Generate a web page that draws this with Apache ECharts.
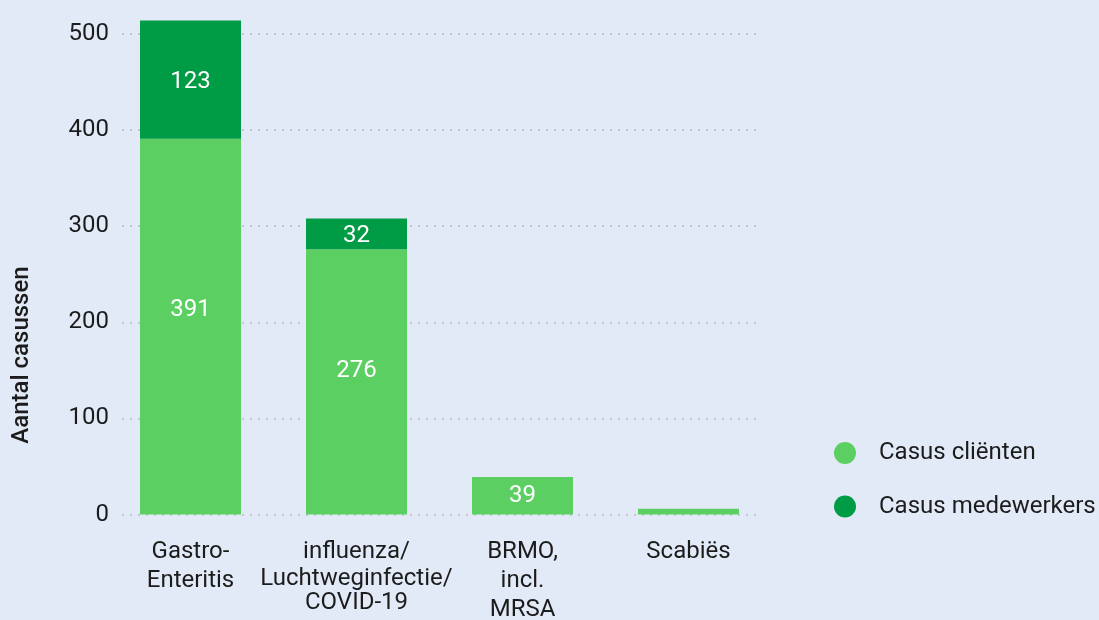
<!DOCTYPE html>
<html>
<head>
<meta charset="utf-8">
<script src="https://cdn.jsdelivr.net/npm/echarts@6/dist/echarts.min.js"></script>
<style>
html,body{margin:0;padding:0;background:#e3eaf7;}
#chart{width:1099px;height:620px;}
</style>
</head>
<body>
<div id="chart"></div>
<script>
var categories = ['Gastro-\nEnteritis', 'influenza/\nLuchtweginfectie/\nCOVID-19', 'BRMO,\nincl.\nMRSA', 'Scabiës'];
var clienten = [391, 276, 39, 6];
var medewerkers = [123, 32, 0, 0];
var seriesNames = ['Casus cliënten', 'Casus medewerkers'];
var yTicks = [0, 100, 200, 300, 400, 500];
var yTitle = 'Aantal casussen';

var FONT = 'Roboto';
var TXT = '#1c1c1c';
var LIGHT = '#5ccf63';
var DARK = '#009b45';
var FS = 24;

var chart = echarts.init(document.getElementById('chart'), null, {renderer: 'canvas'});
var yMin = yTicks[0], yMax = yTicks[yTicks.length - 1], yStep = yTicks[1] - yTicks[0];

function hideZero(p) { return p.value ? String(p.value) : ''; }
function hideSmall(p) { return p.value >= 20 ? String(p.value) : ''; }

chart.setOption({
  backgroundColor: '#e3eaf7',
  animation: false,
  textStyle: {fontFamily: FONT},
  grid: [
    {left: 122, right: 342, top: 34, bottom: 105.5, outerBoundsMode: 'none', containLabel: false},
    {left: 107.5, right: 327.5, top: 34, bottom: 105.5, outerBoundsMode: 'none', containLabel: false}
  ],
  legend: {
    orient: 'vertical',
    left: 829,
    top: 436,
    itemWidth: 58,
    itemHeight: 22,
    itemGap: 29.5,
    icon: 'circle',
    data: seriesNames,
    textStyle: {fontFamily: FONT, fontSize: FS, color: TXT, lineHeight: 22}
  },
  graphic: [{
    type: 'text',
    x: 22,
    y: 355,
    rotation: Math.PI / 2,
    style: {
      text: yTitle,
      font: '500 24px Roboto',
      fill: TXT,
      textAlign: 'center',
      textVerticalAlign: 'middle'
    }
  }],
  xAxis: [
    {gridIndex: 0, type: 'category', data: categories, show: false},
    {
      gridIndex: 1,
      type: 'category',
      data: categories,
      axisLine: {show: false},
      axisTick: {show: false},
      axisLabel: {
        interval: 0,
        margin: 23,
        color: TXT,
        fontFamily: FONT,
        fontSize: FS,
        lineHeight: 29,
        formatter: function (v) {
          var lines = v.split('\n');
          var tight = lines.length === 3 && v.indexOf('influenza') === 0;
          return lines.map(function (l, i) {
            var tag = tight && i > 0 ? 'a' : 'b';
            return '{' + tag + '|' + l + '}';
          }).join('\n');
        },
        rich: {
          a: {fontFamily: FONT, fontSize: FS, lineHeight: 24, color: TXT, align: 'center'},
          b: {fontFamily: FONT, fontSize: FS, lineHeight: 29, color: TXT, align: 'center'}
        }
      }
    }
  ],
  yAxis: [
    {
      gridIndex: 0,
      type: 'value',
      min: yMin, max: yMax, interval: yStep,
      axisLine: {show: false},
      axisTick: {show: false},
      axisLabel: {margin: 13, color: TXT, fontFamily: FONT, fontSize: FS},
      splitLine: {lineStyle: {color: '#c4c8ce', width: 2, type: [2, 6]}}
    },
    {
      gridIndex: 1,
      type: 'value',
      min: yMin, max: yMax, interval: yStep,
      show: false,
      splitLine: {show: false}
    }
  ],
  series: [
    {
      name: seriesNames[0],
      type: 'bar',
      stack: 'total',
      xAxisIndex: 1,
      yAxisIndex: 1,
      barWidth: 101,
      clip: false,
      data: clienten,
      itemStyle: {color: LIGHT},
      label: {
        show: true,
        position: ['50%', '45%'],
        offset: [0, 2],
        align: 'center',
        verticalAlign: 'middle',
        color: '#ffffff',
        fontFamily: FONT,
        fontSize: FS,
        formatter: hideSmall
      }
    },
    {
      name: seriesNames[1],
      type: 'bar',
      stack: 'total',
      xAxisIndex: 1,
      yAxisIndex: 1,
      barWidth: 101,
      clip: false,
      data: medewerkers,
      itemStyle: {color: DARK},
      label: {
        show: true,
        position: 'inside',
        offset: [0, 2.5],
        color: '#ffffff',
        fontFamily: FONT,
        fontSize: FS,
        formatter: hideZero
      }
    }
  ]
});
</script>
</body>
</html>
